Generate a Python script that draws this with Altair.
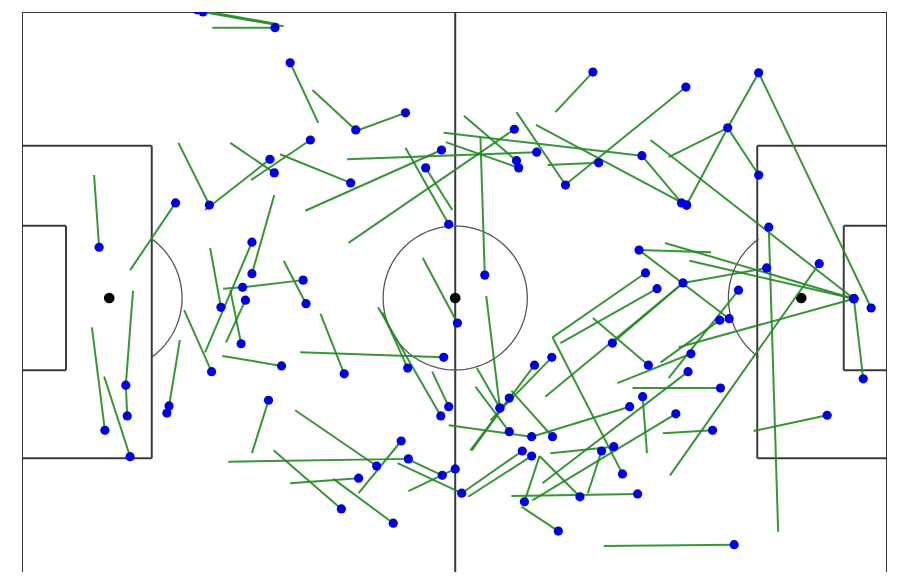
import altair as alt
import numpy as np
import pandas as pd

# Pass data (pitch units: x 0-120 left->right, y 0 at top)
dot_x = [25.1, 24.3, 35.1, 37.2, 46.3, 53.2, 40.0, 45.6, 26.0, 34.4, 35.0, 21.3, 10.7, 31.9, 31.9, 27.6,
         39.0, 30.6, 30.4, 31.0, 39.4, 26.3, 36.0, 20.4, 20.1, 14.4, 14.6, 11.5, 15.0, 34.2, 58.5, 58.2,
         68.3, 59.2, 56.0, 60.4, 64.2, 66.3, 44.7, 58.1, 53.5, 59.2, 49.2, 52.6, 53.6, 60.1, 58.3, 61.0,
         69.4, 70.7, 46.7, 44.3, 51.5, 70.7, 84.3, 67.6, 73.6, 66.3, 67.6, 69.7, 77.4, 85.4, 80.4, 82.1,
         83.3, 86.5, 88.1, 85.6, 98.1, 115.4, 115.4, 115.4, 115.4, 116.7, 117.8, 110.6, 103.6, 103.3, 81.9, 91.7,
         86.9, 92.8, 92.4, 96.9, 96.8, 99.4, 86.1, 90.7, 95.8, 98.8, 111.7, 74.4, 71.1, 73.5, 92.1, 75.4,
         86.0, 91.5, 92.2, 102.2, 97.9, 102.2, 79.2, 71.4, 68.6, 68.9, 80.0, 92.2]
dot_y = [0.0, -0.3, 2.2, 7.1, 16.5, 14.1, 17.9, 23.9, 27.0, 20.6, 22.5, 26.7, 32.9, 36.6, 32.2, 41.3,
         37.5, 38.5, 46.4, 40.3, 40.8, 50.3, 49.5, 55.1, 56.1, 52.2, 56.5, 58.5, 62.2, 54.3, 48.3, 19.3,
         16.4, 29.7, 21.8, 43.5, 36.8, 55.4, 50.6, 56.5, 49.8, 55.2, 63.5, 60.0, 62.5, 63.9, 64.8, 67.3,
         61.4, 62.1, 65.2, 69.5, 71.5, 59.4, 55.2, 58.7, 59.4, 55.4, 54.0, 68.5, 67.8, 67.4, 61.4, 60.8,
         64.6, 36.5, 38.7, 33.3, 42.9, 40.1, 40.1, 40.1, 40.1, 51.3, 41.4, 35.2, 30.1, 35.8, 46.3, 37.9,
         49.4, 47.8, 50.3, 52.6, 43.1, 38.9, 53.8, 56.2, 58.5, 74.5, 56.4, 72.6, 49.4, 48.3, 10.5, 24.2,
         20.1, 26.7, 27.0, 8.5, 16.2, 22.8, 8.4, 19.6, 20.8, 21.8, 21.1, 27.0]
end_x = [36.3, 35.6, 26.4, 41.1, 40.3, 46.7, 31.8, 35.8, 21.7, 25.4, 28.9, 15.0, 10.0, 35.0, 25.4, 26.1,
         30.6, 27.9, 28.9, 28.3, 36.3, 22.5, 27.8, 21.9, 20.3, 15.4, 14.4, 9.7, 11.4, 31.9, 38.6, 39.3,
         45.3, 53.2, 59.7, 55.6, 63.6, 64.4, 41.4, 49.4, 50.0, 56.9, 37.9, 46.7, 28.6, 53.6, 53.2, 52.1,
         61.3, 61.9, 37.2, 34.9, 43.2, 59.2, 70.7, 62.9, 67.9, 63.1, 62.4, 71.8, 71.8, 67.9, 78.5, 73.3,
         73.6, 73.6, 74.7, 95.6, 85.6, 89.2, 92.6, 87.2, 91.1, 115.4, 102.2, 89.9, 104.9, 91.7, 91.7, 72.6,
         79.2, 82.6, 72.2, 84.7, 88.6, 89.7, 86.7, 70.8, 88.9, 80.7, 101.5, 69.3, 62.2, 65.0, 75.8, 68.6,
         58.5, 86.0, 71.3, 97.9, 89.7, 97.9, 74.0, 45.1, 61.3, 58.8, 72.9, 97.9]
end_y = [2.0, 1.7, 2.2, 15.5, 10.9, 16.5, 23.5, 19.9, 18.3, 27.7, 18.3, 36.1, 22.8, 25.6, 47.6, 33.0,
         38.5, 38.7, 38.9, 46.2, 34.8, 41.7, 48.1, 45.9, 55.5, 39.0, 52.2, 44.1, 51.0, 61.7, 47.6, 27.8,
         32.3, 19.0, 27.7, 34.4, 17.6, 39.7, 42.2, 41.3, 42.0, 50.3, 55.7, 67.3, 62.9, 67.0, 62.4, 63.1,
         67.1, 67.8, 65.9, 61.3, 65.3, 57.8, 59.4, 52.4, 53.0, 49.8, 61.3, 62.1, 62.1, 67.7, 67.3, 61.7,
         45.5, 45.5, 46.3, 33.6, 33.3, 32.3, 34.8, 17.9, 46.9, 40.1, 8.5, 64.8, 72.7, 37.9, 37.9, 53.8,
         42.8, 51.9, 65.9, 52.6, 49.0, 51.2, 61.7, 68.3, 58.9, 74.7, 58.6, 69.2, 61.3, 57.1, 23.8, 14.0,
         16.9, 20.1, 15.8, 16.2, 20.3, 16.2, 14.0, 20.6, 14.5, 18.2, 21.4, 16.2]

passes = pd.DataFrame({"x": dot_x, "y": dot_y, "x2": end_x, "y2": end_y})

# Pitch geometry (pitch units)
pitch_segments = pd.DataFrame([
    # outline
    (0, 0, 120, 0), (0, 0, 0, 90), (120, 0, 120, 90), (60.1, 0, 60.1, 90),
    # left penalty area
    (0, 18.7, 18.0, 18.7), (18.0, 18.7, 18.0, 62.4), (0, 62.4, 18.0, 62.4),
    # left six-yard box
    (0, 29.9, 6.1, 29.9), (6.1, 29.9, 6.1, 50.1), (0, 50.1, 6.1, 50.1),
    # right penalty area
    (120, 18.7, 102.0, 18.7), (102.0, 18.7, 102.0, 62.4), (120, 62.4, 102.0, 62.4),
    # right six-yard box
    (120, 29.9, 114.0, 29.9), (114.0, 29.9, 114.0, 50.1), (120, 50.1, 114.0, 50.1),
], columns=["x", "y", "x2", "y2"])

spots = pd.DataFrame({"x": [12.1, 60.1, 108.1], "y": [40.0, 40.0, 40.0]})

# circle and penalty arcs as outlines
t = np.linspace(0, 2 * np.pi, 181)
ratio = 7.2 / 7.15
circle = pd.DataFrame({"x": 60.1 + 10 * np.cos(t), "y": 40 + 10 * ratio * np.sin(t), "o": np.arange(len(t))})
ta = np.linspace(-np.arccos(5.9 / 10.1), np.arccos(5.9 / 10.1), 60)
arc_l = pd.DataFrame({"x": 12.1 + 10.1 * np.cos(ta), "y": 40 + 10.1 * ratio * np.sin(ta), "o": np.arange(len(ta)), "g": "l"})
arc_r = pd.DataFrame({"x": 108.1 - 10.1 * np.cos(ta), "y": 40 + 10.1 * ratio * np.sin(ta), "o": np.arange(len(ta)), "g": "r"})
arcs = pd.concat([circle.assign(g="c"), arc_l, arc_r])

W, H = 865, 560
xs = alt.Scale(domain=[0, 120], nice=False, zero=False)
ys = alt.Scale(domain=[0, H / 7.15], nice=False, zero=False, reverse=True)
X = lambda f="x": alt.X(f"{f}:Q", scale=xs, axis=None)
Y = lambda f="y": alt.Y(f"{f}:Q", scale=ys, axis=None)

pitch = alt.Chart(pitch_segments).mark_rule(color="#3a3a3a", strokeWidth=2, clip=True).encode(
    x=X(), y=Y(), x2="x2:Q", y2="y2:Q")
curves = alt.Chart(arcs).mark_line(color="#555555", strokeWidth=1.3, clip=True).encode(
    x=X(), y=Y(), order="o:Q", detail="g:N")
spot_marks = alt.Chart(spots).mark_circle(color="black", size=115, opacity=1).encode(x=X(), y=Y())
lines = alt.Chart(passes).mark_rule(color="#228b22", strokeWidth=2, opacity=0.9, clip=True).encode(
    x=X(), y=Y(), x2="x2:Q", y2="y2:Q")
dots = alt.Chart(passes).mark_circle(color="#0000e6", size=85, opacity=1, clip=True).encode(x=X(), y=Y())

chart = alt.layer(pitch, curves, spot_marks, lines, dots).properties(
    width=W, height=H,
    padding={"left": 14, "top": 4, "right": 16, "bottom": 0},
    autosize=alt.AutoSizeParams(type="none"),
).configure_view(stroke=None)

chart.save("out.html", embed_options={"renderer": "svg", "actions": False})
